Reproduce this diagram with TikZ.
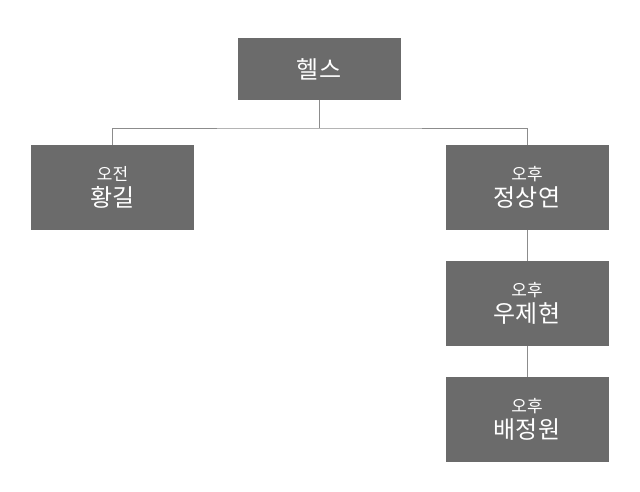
\documentclass[tikz,border=0pt]{standalone}
\usepackage{fontspec}
\setmainfont{Noto Sans CJK KR}
\usetikzlibrary{positioning}
\definecolor{boxgray}{HTML}{6B6B6B}
\definecolor{linegray}{HTML}{8C8C8C}
\tikzset{
  member/.style={fill=boxgray,text=white,minimum width=163pt,minimum height=85pt,
    inner sep=0pt,align=center,font=\fontsize{24}{28}\selectfont},
  link/.style={draw=linegray,line width=0.8pt}
}
\newcommand{\worktime}[1]{{\fontsize{17}{22}\selectfont #1}\\[-2pt]}
\begin{document}
\begin{tikzpicture}[x=1pt,y=-1pt]
  \useasboundingbox (0,0) rectangle (640,491);
  \node[member,minimum height=62pt] (top) at (319,69) {헬스};
  \node[member] (am) at (112.5,187.5) {\worktime{오전}황길};
  \node[member] (pm1) at (527,187.5) {\worktime{오후}정상연};
  \node[member] (pm2) at (527,303.5) {\worktime{오후}우제현};
  \node[member] (pm3) at (527,419.5) {\worktime{오후}배정원};
  \coordinate (bar) at (319,128);
  \draw[link] (top) -- (bar);
  \draw[link] (am.north) |- (bar) -| (pm1.north);
  \draw[link] (pm1) -- (pm2);
  \draw[link] (pm2) -- (pm3);
\end{tikzpicture}
\end{document}
